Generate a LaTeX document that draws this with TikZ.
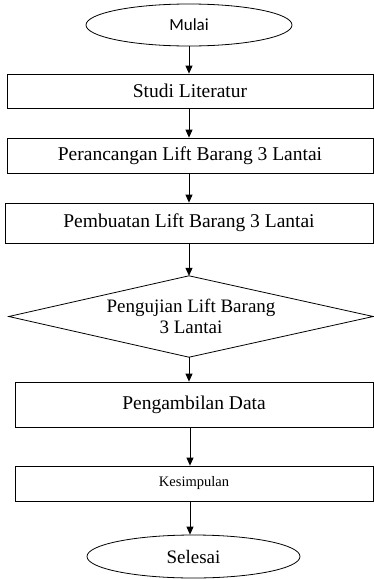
\documentclass[tikz,border=0pt]{standalone}
\usepackage{fontspec}
\setmainfont{Liberation Serif}
\newfontfamily\startfont{Carlito}
\usetikzlibrary{arrows.meta, shapes.geometric, positioning}
\tikzset{
  >={Triangle[length=8,width=7]},
  % Bentuk flowchart
  terminal/.style={ellipse,draw,thick,inner sep=0,font=\fontsize{19}{22}\selectfont},
  prosesbox/.style={rectangle,draw,thick,inner sep=0,font=\fontsize{19.5}{22}\selectfont},
  keputusan/.style={rectangle,inner sep=0,align=center,font=\fontsize{19}{21}\selectfont},
  % Panah
  alur/.style={->,thick}
}

\begin{document}
\begin{tikzpicture}[x=1pt,y=-1pt]
    \useasboundingbox (0,0) rectangle (374,579);
    \node[terminal,minimum width=206,minimum height=42,font=\startfont\fontsize{17}{20}\selectfont] (mulai) at (189,25) {Mulai};
    \node[prosesbox,minimum width=366,minimum height=34] (studi) at (190,91) {Studi Literatur};
    \node[prosesbox,minimum width=366,minimum height=35] (rancang) at (190,155.5) {Perancangan Lift Barang 3 Lantai};
    \node[prosesbox,minimum width=368,minimum height=40] (buat) at (189,223) {Pembuatan Lift Barang 3 Lantai};
    \node[keputusan,minimum width=364,minimum height=81] (uji) at (191,316.5) {Pengujian Lift Barang\\3 Lantai};
    \draw[thick] (mulai |- uji.north) -- (uji.east) -- (mulai |- uji.south) -- (uji.west) -- cycle;
    \node[prosesbox,minimum width=358,minimum height=45] (ambil) at (194,404.5) {Pengambilan Data};
    \node[prosesbox,minimum width=358,minimum height=35,font=\fontsize{14.5}{17}\selectfont] (simpul) at (194,483.5) {Kesimpulan};
    \node[terminal,minimum width=213,minimum height=43] (selesai) at (193.5,556.5) {Selesai};
    \draw[alur] (mulai.south) -- (mulai.south |- studi.north);
    \draw[alur] (studi.south -| mulai) -- (mulai |- rancang.north);
    \draw[alur] (rancang.south -| mulai) -- (mulai |- buat.north);
    \draw[alur] (buat.south -| mulai) -- (mulai |- uji.north);
    \draw[alur] (uji.south -| mulai) -- (mulai |- ambil.north);
    \draw[alur] ([xshift=1]mulai |- ambil.south) -- ([xshift=1]mulai |- simpul.north);
    \draw[alur] ([xshift=1]mulai |- simpul.south) -- ([xshift=1]mulai |- selesai.north);
  \end{tikzpicture}
\end{document}
